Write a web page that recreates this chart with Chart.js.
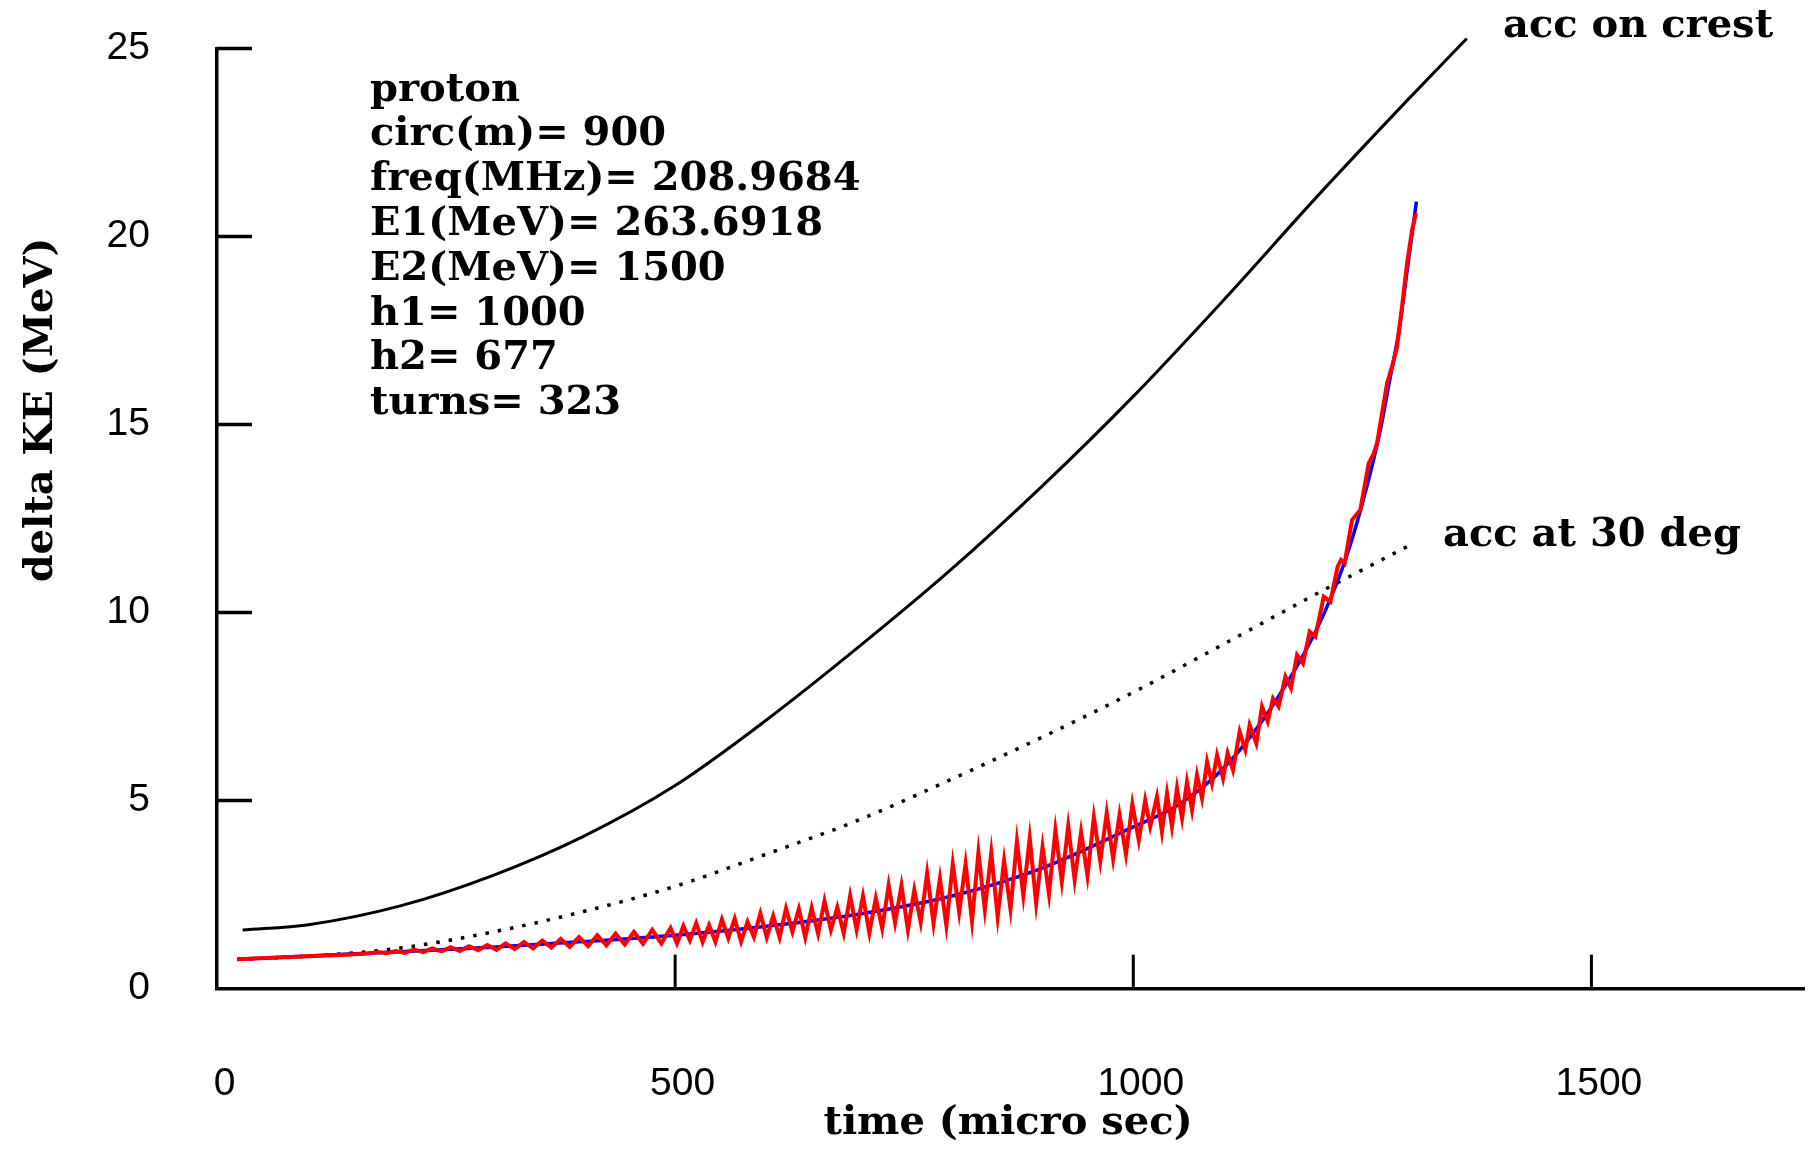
<!DOCTYPE html>
<html>
<head>
<meta charset="utf-8">
<script src="https://cdn.jsdelivr.net/npm/chart.js@4.4.0/dist/chart.umd.min.js"></script>
<style>
  html, body { margin: 0; padding: 0; background: #fff; }
  #wrap { width: 1813px; height: 1151px; }
</style>
</head>
<body>
<div id="wrap"><canvas id="myChart" width="1813" height="1151"></canvas></div>
<script>
// ticks
const xTickValues = [0, 500, 1000, 1500];
const yTickValues = [0, 5, 10, 15, 20, 25];

// acc on crest (black solid)
const crestTime = [28, 100, 200, 300, 400, 500, 600, 700, 800, 900, 1000, 1100, 1200, 1300, 1364];
const crestKE = [1.56, 1.70, 2.20, 3.0, 4.05, 5.40, 7.15, 9.08, 11.12, 13.35, 15.75, 18.35, 21.05, 23.65, 25.27];

// acc at 30 deg (black dotted)
const phase30Time = [22, 100, 200, 300, 400, 500, 600, 700, 800, 900, 1000, 1100, 1200, 1300];
const phase30KE = [0.78, 0.86, 1.08, 1.5, 2.05, 2.72, 3.58, 4.48, 5.55, 6.68, 7.88, 9.18, 10.5, 11.77];

// smooth tracking (blue)
const smoothTime = [22, 100, 200, 300, 400, 500, 600, 700, 800, 900, 1000, 1050, 1100, 1150, 1200, 1230, 1250, 1270, 1280, 1290, 1300, 1309];
const smoothKE = [0.78, 0.87, 0.98, 1.10, 1.25, 1.42, 1.66, 1.98, 2.45, 3.2, 4.3, 4.9, 5.9, 7.45, 9.55, 11.3, 12.9, 14.9, 16.2, 17.5, 19.3, 20.93];

// turn by turn tracking (red)
const trackTime = [
  22, 60, 100, 140, 165,
  175, 185, 195, 205, 215, 225, 235, 245, 255, 265, 275, 285, 295, 305, 315, 325, 335,
  345, 355, 365, 375, 385, 395, 405, 415, 425, 435, 445, 455, 465, 475, 485, 495,
  502, 509, 516, 523, 530, 537, 544, 551, 558, 565, 572, 579, 586, 593, 600, 607, 614,
  621, 628, 635, 642, 649, 656, 663, 670, 677, 684, 691, 698, 705, 712, 719, 726, 733,
  740, 747, 754, 761, 768, 775, 782, 789, 796, 803, 810, 817, 824, 831, 838, 845, 852,
  859, 866, 873, 880, 887, 894, 901, 908, 915, 922, 929, 936, 943, 950, 957, 964, 971,
  978, 985, 992, 999, 1006, 1013,
  1018.5, 1025.8, 1031.3, 1036.8, 1042.2, 1047.7, 1053.2, 1058.6, 1064.1, 1069.5, 1075,
  1080.5, 1085.9, 1091.4, 1097.9, 1103, 1108.8, 1116.1, 1122.3, 1127, 1134.3, 1140.5,
  1146.7, 1152.5, 1158.6, 1166, 1172.1, 1178.7, 1185.2, 1192.5, 1198.7, 1207.8, 1215.1,
  1223, 1226.7, 1230.7, 1238.7, 1243.4, 1247.8, 1256.9, 1261.7, 1266, 1277, 1282.4,
  1287.9, 1293.3, 1298.8, 1304.3, 1308.6
];
const trackKE = [
  0.78, 0.82, 0.86, 0.90, 0.93,
  0.97, 0.94, 1.00, 0.95, 1.04, 0.97, 1.07, 0.99, 1.10, 1.00, 1.13, 1.02, 1.16, 1.03, 1.20, 1.05, 1.24,
  1.07, 1.28, 1.09, 1.32, 1.11, 1.37, 1.13, 1.42, 1.15, 1.46, 1.17, 1.51, 1.19, 1.56, 1.20, 1.61,
  1.20, 1.67, 1.28, 1.74, 1.24, 1.69, 1.24, 1.84, 1.34, 1.86, 1.25, 1.78, 1.37, 2.00, 1.36, 1.93, 1.36,
  2.13, 1.51, 2.12, 1.36, 2.15, 1.46, 2.33, 1.56, 2.16, 1.47, 2.47, 1.57, 2.46, 1.48, 2.41, 1.60, 2.75,
  1.75, 2.74, 1.56, 2.62, 1.76, 3.07, 1.73, 2.93, 1.68, 3.31, 2.03, 3.32, 1.79, 3.62, 2.10, 3.62, 1.90,
  3.40, 2.11, 3.92, 2.47, 4.00, 2.27, 3.77, 2.51, 4.21, 2.84, 4.32, 2.89, 4.16, 3.00, 4.56, 3.38, 4.67,
  3.45, 4.62, 3.57, 4.91, 3.94, 5.01,
  4.31, 5.10, 4.17, 5.19, 4.31, 5.33, 4.53, 5.50, 4.75, 5.68, 5.06,
  6.03, 5.46, 6.21, 5.59, 6.26, 5.81, 6.83, 6.35, 7.01, 6.52, 7.50,
  7.10, 7.72, 7.50, 8.30, 7.99, 8.87, 8.65, 9.49, 9.36, 10.42, 10.29,
  11.22, 11.40, 11.31, 12.46, 12.60, 12.73, 13.97, 14.19, 14.50, 16.10, 16.54,
  17.07, 18.14, 19.29, 20.18, 20.62
];

const infoLines = [
  "proton",
  "circ(m)= 900",
  "freq(MHz)= 208.9684",
  "E1(MeV)= 263.6918",
  "E2(MeV)= 1500",
  "h1= 1000",
  "h2= 677",
  "turns= 323"
];

const serif = '"DejaVu Serif", "Liberation Serif", serif';
const sans = '"Liberation Sans", "DejaVu Sans", sans-serif';

const toPoints = (xs, ys) => xs.map((x, i) => ({ x: x, y: ys[i] }));

// inward ticks, titles and labels drawn on top
const extras = {
  id: "extras",
  afterDraw(chart) {
    const ctx = chart.ctx;
    const xs = chart.scales.x;
    const ys = chart.scales.y;
    const area = chart.chartArea;
    ctx.save();
    ctx.strokeStyle = "#000";
    ctx.lineWidth = 3.5;
    yTickValues.forEach((v) => {
      if (v === 0) return;
      const py = ys.getPixelForValue(v);
      ctx.beginPath();
      ctx.moveTo(area.left, py);
      ctx.lineTo(area.left + 35, py);
      ctx.stroke();
    });
    ctx.lineWidth = 3;
    xTickValues.forEach((v) => {
      if (v === 0) return;
      const px = xs.getPixelForValue(v);
      ctx.beginPath();
      ctx.moveTo(px, area.bottom);
      ctx.lineTo(px, area.bottom - 34);
      ctx.stroke();
    });

    ctx.fillStyle = "#000";
    ctx.font = "bold 40px " + serif;
    ctx.textAlign = "left";
    ctx.textBaseline = "alphabetic";
    infoLines.forEach((line, i) => {
      ctx.fillText(line, 370, 100.5 + i * 44.8);
    });
    ctx.fillText("acc on crest", 1503, 37);
    ctx.fillText("acc at 30 deg", 1443, 546);

    ctx.textAlign = "center";
    ctx.fillText("time (micro sec)", 1008, 1134);
    ctx.save();
    ctx.translate(52, 410);
    ctx.rotate(-Math.PI / 2);
    ctx.fillText("delta KE (MeV)", 0, 0);
    ctx.restore();
    ctx.restore();
  }
};

const ctx = document.getElementById("myChart").getContext("2d");
const myChart = new Chart(ctx, {
  type: "line",
  data: {
    datasets: [
      {
        label: "tracking",
        data: toPoints(trackTime, trackKE),
        borderColor: "#ff0000",
        borderWidth: 4,
        tension: 0,
        pointRadius: 0,
        clip: false
      },
      {
        label: "smooth",
        data: toPoints(smoothTime, smoothKE),
        borderColor: "#0000ff",
        borderWidth: 3.5,
        cubicInterpolationMode: "monotone",
        pointRadius: 0,
        clip: false
      },
      {
        label: "acc at 30 deg",
        data: toPoints(phase30Time, phase30KE),
        borderColor: "#000",
        borderWidth: 3.5,
        borderDash: [3.5, 9],
        cubicInterpolationMode: "monotone",
        pointRadius: 0,
        clip: false
      },
      {
        label: "acc on crest",
        data: toPoints(crestTime, crestKE),
        borderColor: "#000",
        borderWidth: 3,
        cubicInterpolationMode: "monotone",
        pointRadius: 0,
        clip: false
      }
    ]
  },
  options: {
    responsive: false,
    animation: false,
    devicePixelRatio: 1,
    layout: { padding: { top: 48.6, right: 9, left: 0, bottom: 0 } },
    plugins: {
      legend: { display: false },
      tooltip: { enabled: false }
    },
    scales: {
      x: {
        type: "linear",
        min: 0,
        max: 1732,
        afterFit: (s) => {
          s.height = 162.4;
          s.paddingLeft = 0;
          s.paddingRight = 0;
        },
        afterBuildTicks: (s) => { s.ticks = xTickValues.map((v) => ({ value: v })); },
        grid: { display: false, drawTicks: false },
        border: { display: true, color: "#000", width: 3.5 },
        ticks: {
          padding: 72,
          labelOffset: 7.5,
          maxRotation: 0,
          autoSkip: false,
          color: "#000",
          font: { family: sans, size: 39 },
          callback: (v) => String(v)
        }
      },
      y: {
        type: "linear",
        min: 0,
        max: 25,
        afterFit: (s) => {
          s.width = 217;
          s.paddingTop = 0;
          s.paddingBottom = 0;
        },
        afterBuildTicks: (s) => { s.ticks = yTickValues.map((v) => ({ value: v })); },
        grid: { display: false, drawTicks: false },
        border: { display: true, color: "#000", width: 3.5 },
        ticks: {
          padding: 67,
          color: "#000",
          font: { family: sans, size: 39 },
          callback: (v) => String(v)
        }
      }
    }
  },
  plugins: [extras]
});
</script>
</body>
</html>
